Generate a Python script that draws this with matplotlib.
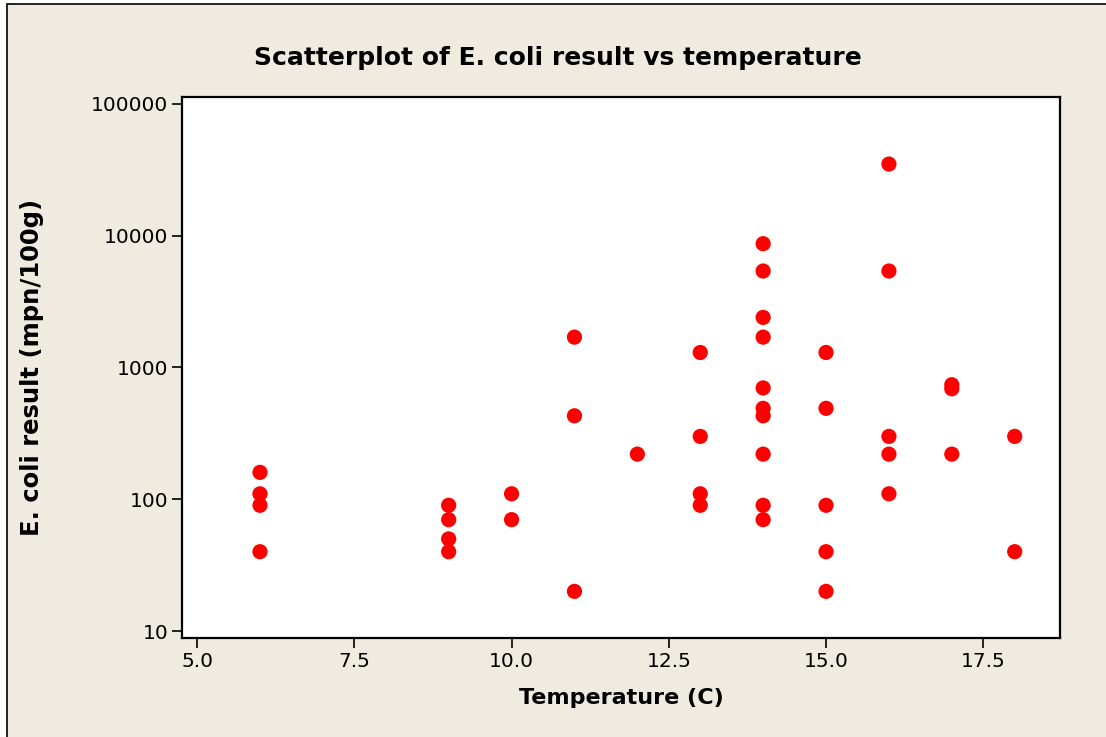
import numpy as np
import matplotlib
matplotlib.use("Agg")
import matplotlib.pyplot as plt
from matplotlib.patches import Rectangle
from matplotlib.ticker import FixedLocator, FixedFormatter, NullLocator

# temperature (C) and E. coli result (mpn/100g)
temperature = [6, 6, 6, 6,
               9, 9, 9, 9,
               10, 10,
               11, 11, 11,
               12,
               13, 13, 13, 13,
               14, 14, 14, 14, 14, 14, 14, 14, 14, 14,
               15, 15, 15, 15, 15,
               16, 16, 16, 16, 16,
               17, 17, 17,
               18, 18]
ecoli = [160, 110, 90, 40,
         90, 70, 50, 40,
         110, 70,
         1700, 430, 20,
         220,
         1300, 300, 110, 90,
         8700, 5400, 2400, 1700, 700, 490, 430, 220, 90, 70,
         1300, 490, 90, 40, 20,
         35000, 5400, 300, 220, 110,
         740, 690, 220,
         300, 40]

x_ticks = [5.0, 7.5, 10.0, 12.5, 15.0, 17.5]
y_ticks = [10, 100, 1000, 10000, 100000]

W, H = 1106, 737
fig = plt.figure(figsize=(W / 100, H / 100), dpi=100)
fig.patch.set_facecolor("white")
# beige panel with a thin black frame on left/top
bg = Rectangle((7 / W, -0.1), 1.2, 1.1 - 4 / H, transform=fig.transFigure,
               facecolor="#EFEBE0", edgecolor="black", linewidth=1.2, zorder=-5)
fig.patches.append(bg)

ax = fig.add_axes([182 / W, 1 - 638 / H, (1060 - 182) / W, (638 - 97) / H])
ax.set_zorder(2)
ax.set_facecolor("white")
ax.scatter(temperature, ecoli, s=120, color="#FF0000", edgecolors="none", zorder=3)

ax.set_yscale("log")
ax.set_xlim(4.76, 18.72)
ax.set_ylim(10 ** 0.947, 10 ** 5.053)

fnt = "DejaVu Sans"
ax.xaxis.set_major_locator(FixedLocator(x_ticks))
ax.xaxis.set_major_formatter(FixedFormatter(["%.1f" % t for t in x_ticks]))
ax.yaxis.set_major_locator(FixedLocator(y_ticks))
ax.yaxis.set_major_formatter(FixedFormatter([str(t) for t in y_ticks]))
ax.yaxis.set_minor_locator(NullLocator())
ax.tick_params(direction="out", length=7, width=1.2, color="black", labelsize=14.5, pad=3)
for lab in ax.get_xticklabels() + ax.get_yticklabels():
    lab.set_fontfamily(fnt)

for sp in ax.spines.values():
    sp.set_linewidth(1.6)
    sp.set_color("black")

ax.set_xlabel("Temperature (C)", fontsize=16, fontweight="bold", family=fnt, va="center")
ax.xaxis.set_label_coords(0.5, -(698 - 638) / 541)
ax.set_ylabel("E. coli result (mpn/100g)", fontsize=17.5, fontweight="bold", family=fnt, va="center")
ax.yaxis.set_label_coords(-(182 - 32) / 878, 0.5)

fig.text(558 / W, 1 - 58 / H, "Scatterplot of E. coli result vs temperature",
         ha="center", va="center", fontsize=18, fontweight="bold", family=fnt)

fig.savefig("out.png", dpi=100)
